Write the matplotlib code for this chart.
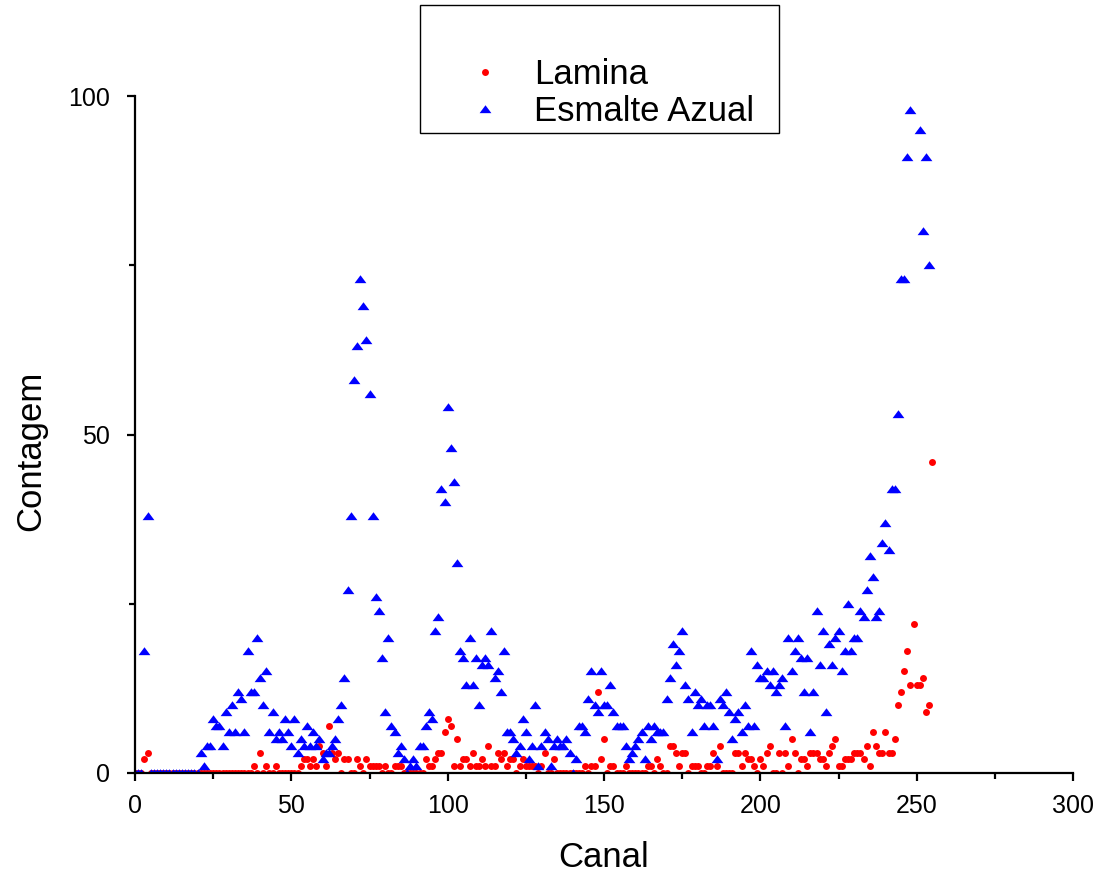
import numpy as np
import matplotlib
matplotlib.use("Agg")
import matplotlib.pyplot as plt
from matplotlib.ticker import MultipleLocator
from matplotlib.patches import Rectangle

# ---- data ----
series_names = ["Lamina", "Esmalte Azual"]
x_label = "Canal"
y_label = "Contagem"

lamina = [
    0, 0, 0, 2, 3, 0, 0, 0, 0, 0,            # 0-9
    0, 0, 0, 0, 0, 0, 0, 0, 0, 0,            # 10-19
    0, 0, 0, 0, 0, 0, 0, 0, 0, 0,            # 20-29
    0, 0, 0, 0, 0, 0, 0, 0, 1, 0,            # 30-39
    3, 0, 1, 0, 0, 1, 0, 0, 0, 0,            # 40-49
    0, 0, 0, 1, 2, 2, 1, 2, 1, 4,            # 50-59
    3, 1, 7, 3, 2, 3, 0, 2, 2, 0,            # 60-69
    0, 2, 1, 0, 2, 1, 1, 1, 1, 0,            # 70-79
    1, 0, 0, 1, 1, 1, 0, 0, 0, 0,            # 80-89
    0, 0, 0, 2, 1, 1, 2, 3, 3, 6,            # 90-99
    8, 7, 1, 5, 1, 2, 2, 1, 3, 1,            # 100-109
    1, 2, 1, 4, 1, 1, 3, 2, 3, 1,            # 110-119
    2, 2, 0, 1, 2, 1, 1, 1, 1, 0,            # 120-129
    1, 3, 0, 0, 2, 0, 0, 0, 0, 0,            # 130-139
    0, 0, 0, 0, 1, 0, 1, 1, 12, 2,           # 140-149
    5, 0, 1, 1, 0, 0, 0, 1, 0, 0,            # 150-159
    0, 0, 0, 0, 1, 1, 0, 2, 1, 0,            # 160-169
    0, 4, 4, 3, 1, 3, 3, 0, 1, 1,            # 170-179
    1, 0, 0, 1, 1, 3, 1, 4, 0, 0,            # 180-189
    0, 0, 3, 3, 1, 3, 2, 2, 1, 0,            # 190-199
    2, 1, 3, 4, 0, 0, 3, 0, 3, 1,            # 200-209
    5, 3, 0, 2, 2, 1, 3, 3, 3, 2,            # 210-219
    2, 1, 3, 4, 5, 1, 1, 2, 2, 2,            # 220-229
    3, 3, 3, 2, 4, 1, 6, 4, 3, 3,            # 230-239
    6, 3, 3, 5, 10, 12, 15, 18, 13, 22,      # 240-249
    13, 13, 14, 9, 10, 46,                   # 250-255
]

esmalte_azual = [
    0, 0, 0, 18, 38, 0, 0, 0, 0, 0,          # 0-9
    0, 0, 0, 0, 0, 0, 0, 0, 0, 0,            # 10-19
    0, 3, 1, 4, 4, 8, 7, 7, 4, 9,            # 20-29
    6, 10, 6, 12, 11, 6, 18, 12, 12, 20,     # 30-39
    14, 10, 15, 6, 9, 5, 6, 5, 8, 6,         # 40-49
    4, 8, 3, 5, 4, 7, 4, 6, 4, 5,            # 50-59
    2, 3, 3, 4, 5, 8, 10, 14, 27, 38,        # 60-69
    58, 63, 73, 69, 64, 56, 38, 26, 24, 17,  # 70-79
    9, 20, 7, 6, 3, 4, 2, 0, 1, 2,           # 80-89
    1, 4, 4, 7, 9, 8, 21, 23, 42, 40,        # 90-99
    54, 48, 43, 31, 18, 17, 13, 20, 13, 17,  # 100-109
    10, 16, 17, 16, 21, 14, 15, 12, 18, 6,   # 110-119
    6, 5, 3, 4, 8, 6, 2, 4, 10, 1,           # 120-129
    4, 6, 5, 1, 4, 5, 4, 4, 5, 3,            # 130-139
    0, 2, 7, 7, 6, 11, 15, 10, 9, 15,        # 140-149
    10, 10, 13, 9, 7, 7, 7, 4, 2, 3,         # 150-159
    4, 5, 6, 2, 7, 5, 7, 6, 6, 6,            # 160-169
    11, 14, 19, 16, 18, 21, 13, 11, 6, 12,   # 170-179
    10, 11, 7, 10, 10, 7, 2, 11, 10, 12,     # 180-189
    9, 5, 8, 9, 6, 10, 7, 18, 7, 16,         # 190-199
    14, 14, 15, 13, 15, 12, 13, 14, 7, 20,   # 200-209
    15, 18, 20, 17, 12, 17, 6, 12, 24, 16,   # 210-219
    21, 9, 19, 16, 20, 21, 15, 18, 25, 18,   # 220-229
    20, 20, 24, 23, 27, 32, 29, 23, 24, 34,  # 230-239
    37, 33, 42, 42, 53, 73, 73, 91, 98, np.nan,  # 240-249
    np.nan, 95, 80, 91, 75,                  # 250-254
]

x_ticks = [0, 50, 100, 150, 200, 250, 300]
y_ticks = [0, 50, 100]

canal_lamina = np.arange(len(lamina))
canal_azual = np.arange(len(esmalte_azual))

# ---- figure ----
W, H = 1101, 873
plt.rcParams["font.family"] = ["Liberation Sans", "DejaVu Sans"]
fig = plt.figure(figsize=(W / 100, H / 100), dpi=100)

ax = fig.add_axes([135 / W, 1 - 773 / H, (1073 - 135) / W, (773 - 96) / H])

tri = [(-1.0, -0.62), (1.0, -0.62), (0.0, 0.72)]

l1, = ax.plot(canal_lamina, lamina, linestyle="none", marker="o",
              markersize=5.0, markerfacecolor="#ff0000",
              markeredgecolor="#ff0000", markeredgewidth=0, label=series_names[0])
l2, = ax.plot(canal_azual, esmalte_azual, linestyle="none", marker=tri,
              markersize=8.5, markerfacecolor="#0000ff",
              markeredgecolor="#0000ff", markeredgewidth=0, label=series_names[1])

ax.set_xlim(0, 300)
ax.set_ylim(0, 100)
ax.set_xticks(x_ticks)
ax.set_yticks(y_ticks)
ax.xaxis.set_minor_locator(MultipleLocator(25))
ax.yaxis.set_minor_locator(MultipleLocator(25))

for s in ["top", "right"]:
    ax.spines[s].set_visible(False)
for s in ["left", "bottom"]:
    ax.spines[s].set_linewidth(1.6)
    ax.spines[s].set_color("black")

ax.tick_params(which="major", direction="out", length=6, width=1.6,
               labelsize=18, colors="black")
ax.tick_params(which="minor", direction="out", length=4, width=1.6)
ax.tick_params(axis="x", which="major", pad=9)
ax.tick_params(axis="y", which="major", pad=12)

ax.set_xlabel(x_label, fontsize=25, labelpad=17)
ax.set_ylabel(y_label, fontsize=25, labelpad=14)
ax.yaxis.set_label_coords(-0.0935, 0.476)

# legend (frame drawn as a rectangle, Origin style)
leg = fig.legend(handles=[l1, l2], loc="center left",
                 bbox_to_anchor=(469 / W, 1 - 93 / H),
                 frameon=False, fontsize=25, borderpad=0, borderaxespad=0,
                 handlelength=0.95, handletextpad=0.93, labelspacing=0.12,
                 markerscale=1.0)
fig.patches.append(Rectangle((420 / W, 1 - 133 / H), (779 - 420) / W, (133 - 5) / H,
                             transform=fig.transFigure, fill=False,
                             edgecolor="black", linewidth=1.0))

fig.savefig("out.png", dpi=100)
